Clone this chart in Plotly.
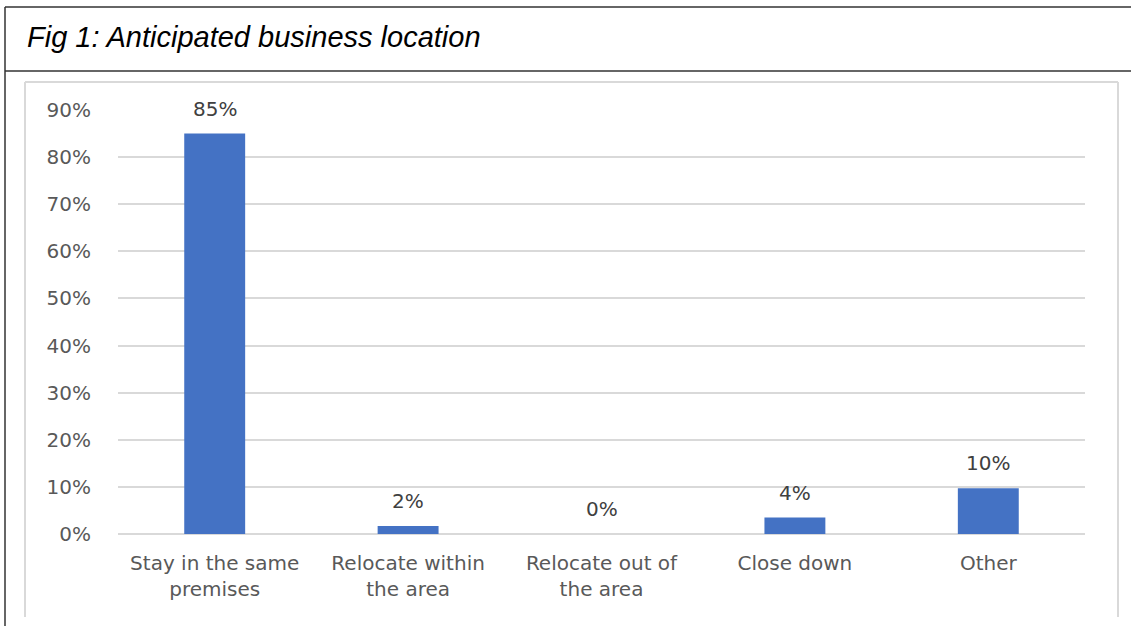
import plotly.graph_objects as go

categories = ["Stay in the same<br>premises", "Relocate within<br>the area", "Relocate out of<br>the area", "Close down", "Other"]
values = [85.0, 1.7, 0.0, 3.5, 9.7]
labels = ["85%", "2%", "0%", "4%", "10%"]
tick_vals = [0, 10, 20, 30, 40, 50, 60, 70, 80, 90]
tick_text = ["0%", "10%", "20%", "30%", "40%", "50%", "60%", "70%", "80%", "90%"]
title_text = "Fig 1: Anticipated business location"

W, H = 1131, 626
L, R, T, B = 118, 1085, 110, 534

def px_x(p):
    return (p - L) / (R - L)

def px_y(p):
    return (B - p) / (B - T)

TXT = "#595959"
FONT = "DejaVu Sans"
FS = 20

fig = go.Figure(go.Bar(
    x=categories, y=values, width=0.315,
    marker=dict(color="#4472C4", line=dict(width=0)),
    hoverinfo="skip",
))

annotations = []
for c, v, t in zip(categories, values, labels):
    annotations.append(dict(x=c, y=v, xref="x", yref="y", text=t, showarrow=False,
                            yanchor="bottom", yshift=11,
                            font=dict(family=FONT, size=FS, color="#404040")))

def line(x0, y0, x1, y1, color, width):
    return dict(type="line", xref="paper", yref="paper",
                x0=px_x(x0), x1=px_x(x1), y0=px_y(y0), y1=px_y(y1),
                line=dict(color=color, width=width), layer="below")

fig.update_layout(
    width=W, height=H,
    margin=dict(l=L, r=W - R, t=T, b=H - B, pad=0),
    paper_bgcolor="white", plot_bgcolor="white",
    showlegend=False,
    annotations=annotations,
    title=dict(text=title_text, x=27 / W, xref="container", xanchor="left",
               y=1 - 37 / H, yref="container", yanchor="middle",
               font=dict(family="Liberation Sans", size=29, color="black", style="italic")),
    xaxis=dict(showline=False, showgrid=False, ticks="", ticklabelstandoff=15,
               tickfont=dict(family=FONT, size=FS, color=TXT), fixedrange=True),
    yaxis=dict(range=[0, 90], tickvals=tick_vals, ticktext=tick_text, showline=False,
               showgrid=True, gridcolor="#d9d9d9", gridwidth=1.5, zeroline=True,
               zerolinecolor="#d9d9d9", zerolinewidth=1.5, ticks="", ticklabelstandoff=26,
               tickfont=dict(family=FONT, size=FS, color=TXT), fixedrange=True),
    shapes=[
        line(5, 7, 1131, 7, "#333333", 1.5),
        line(5, 7, 5, 626, "#333333", 1.5),
        line(5, 71, 1131, 71, "#333333", 1.5),
        line(25, 82, 1118, 82, "#d9d9d9", 2),
        line(25, 82, 25, 617, "#d9d9d9", 2),
        line(1118, 82, 1118, 617, "#d9d9d9", 2),
    ],
)

fig.write_html("out.html", config={"displayModeBar": False},
               post_script="document.body.style.margin='0';")
